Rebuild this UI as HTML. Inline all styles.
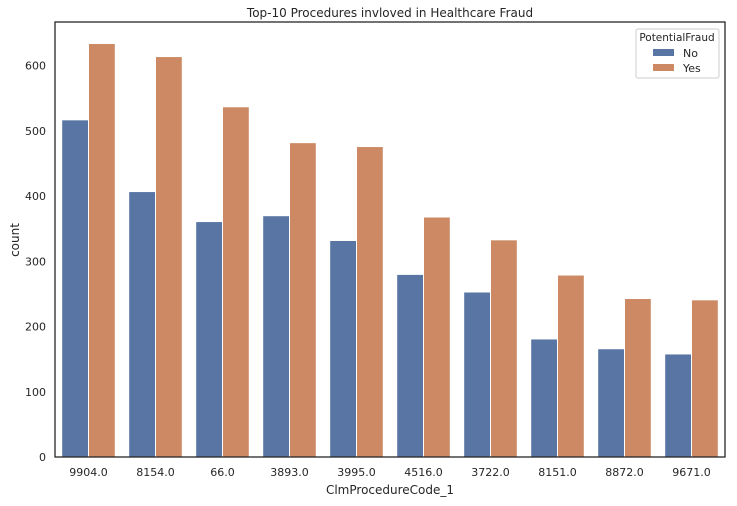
<!DOCTYPE html>
<html><head><meta charset="utf-8"><style>
body{margin:0;background:#fff;}
svg text{font-family:"DejaVu Sans","Liberation Sans",sans-serif;fill:#262626;}
</style></head><body>
<svg id="chart" width="737" height="501" xmlns="http://www.w3.org/2000/svg"></svg>
<script>
const categories=["9904.0","8154.0","66.0","3893.0","3995.0","4516.0","3722.0","8151.0","8872.0","9671.0"];
const noValues=[517,407,361,370,332,280,253,181,166,158];
const yesValues=[634,614,537,482,476,368,333,279,243,241];
const yTicks=[0,100,200,300,400,500,600];
const seriesNames=["No","Yes"];
const colors=["#5875a4","#cc8963"];
const L=55,R=725,T=22,B=457,yMax=667;
const svg=document.getElementById('chart');
const NS="http://www.w3.org/2000/svg";
function y(v){return B-(B-T)*v/yMax;}
function xBand(i){return L+(R-L)/categories.length*i;}
const bw=(R-L)/categories.length;
function mk(tag,attrs,text){const e=document.createElementNS(NS,tag);for(const k in attrs)e.setAttribute(k,attrs[k]);if(text!==undefined)e.textContent=text;svg.appendChild(e);return e;}
const title=mk('text',{x:(L+R)/2,y:17,'text-anchor':'middle','font-size':12},'Top-10 Procedures invloved in Healthcare Fraud');


[noValues,yesValues].forEach((vals,s)=>{
  vals.forEach((v,i)=>{
    const x0=xBand(i)+bw*0.1+s*bw*0.4;
    const r=mk('rect',{x:x0,y:y(v),width:bw*0.4,height:B-y(v),fill:colors[s],stroke:'#fff','stroke-width':1});
    
    
  });
});
yTicks.forEach(t=>{
  const e=mk('text',{x:L-9,y:y(t)+4,'text-anchor':'end','font-size':11},String(t));
  
  
});
categories.forEach((c,i)=>{
  const e=mk('text',{x:xBand(i)+bw/2,y:476,'text-anchor':'middle','font-size':11},c);
  
  
});
const frame=mk('rect',{x:L,y:T,width:R-L,height:B-T,fill:'none',stroke:'#262626','stroke-width':1.3});


const xt=mk('text',{x:(L+R)/2,y:494,'text-anchor':'middle','font-size':12},'ClmProcedureCode_1');


const yt=mk('text',{x:0,y:0,'text-anchor':'middle','font-size':12,transform:'translate(19,240) rotate(-90)'},'count');


const lg=mk('rect',{x:636,y:29,width:83,height:49,fill:'#fff',stroke:'#ccc',rx:2});


const lt=mk('text',{x:677,y:41,'text-anchor':'middle','font-size':10.5},'PotentialFraud');


seriesNames.forEach((n,s)=>{
  const p=mk('rect',{x:653,y:49+s*15,width:21,height:7,fill:colors[s]});
  
  
  const t=mk('text',{x:683,y:57+s*15,'font-size':11},n);
  
  
});
</script>
</body></html>
